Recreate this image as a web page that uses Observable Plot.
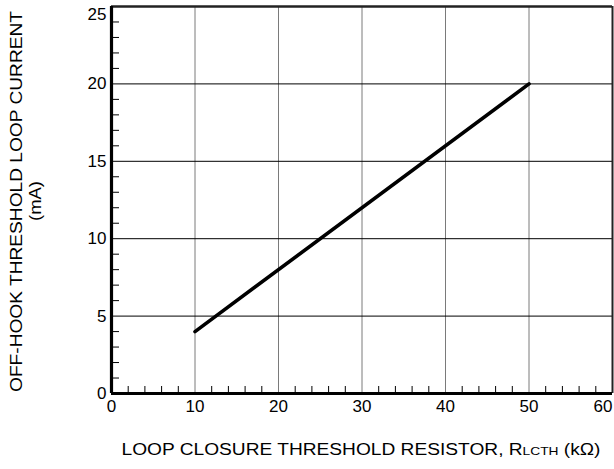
<!DOCTYPE html>
<html><head><meta charset="utf-8">
<script src="https://cdn.jsdelivr.net/npm/d3@7"></script>
<script src="https://cdn.jsdelivr.net/npm/@observablehq/plot@0.6"></script>
<style>body{margin:0;background:#fff} svg{display:block}</style>
</head><body><div id="chart"></div>
<script>
const resistorK = [10, 50];
const currentMA = [4, 20];
const xDomain = [0, 60];
const yDomain = [0, 25];
const xTickLabels = [0, 10, 20, 30, 40, 50];
const xLastLabel = [60];
const yTickLabels = [0, 5, 10, 15, 20];
const yTopLabel = [25];
const xGrid = [10, 20, 30, 40, 50];
const yGrid = [5, 10, 15, 20];
const xMinor = [2, 4, 6, 8, 12, 14, 16, 18, 22, 24, 26, 28, 32, 34, 36, 38, 42, 44, 46, 48, 52, 54, 56, 58];
const yMinor = [1, 2, 3, 4, 6, 7, 8, 9, 11, 12, 13, 14, 16, 17, 18, 19, 21, 22, 23, 24];
const xTitleMain = "LOOP CLOSURE THRESHOLD RESISTOR, R";
const xTitleSub = "LCTH";
const xTitleUnit = " (kΩ)";
const yTitleMain = "OFF-HOOK THRESHOLD LOOP CURRENT";
const yTitleUnit = "(mA)";

const data = resistorK.map((x, i) => ({x, y: currentMA[i]}));
const xTitle = xTitleMain + xTitleSub + xTitleUnit;

const chart = Plot.plot({
  width: 614, height: 469,
  marginLeft: 111, marginRight: 2, marginTop: 6, marginBottom: 76,
  style: {fontFamily: "'Liberation Sans', Arial, sans-serif", background: "#fff", color: "#000"},
  x: {domain: xDomain},
  y: {domain: yDomain},
  marks: [
    Plot.gridX(xGrid, {stroke: "#7a7a7a", strokeOpacity: 1, strokeWidth: 1}),
    Plot.gridY(yGrid, {stroke: "#000", strokeOpacity: 1, strokeWidth: 1}),
    Plot.axisX(xMinor, {tickSize: -7, text: null, label: null, stroke: "#000"}),
    Plot.axisY(yMinor, {tickSize: -8, text: null, label: null, stroke: "#000"}),
    Plot.axisX(xTickLabels, {tickSize: 0, tickPadding: 6, fontSize: 17, label: null, fill: "#000"}),
    Plot.axisX(xLastLabel, {tickSize: 0, tickPadding: 6, fontSize: 17, label: null, dx: -9.5, fill: "#000"}),
    Plot.axisY(yTickLabels, {tickSize: 0, tickPadding: 5, fontSize: 17, label: null, fill: "#000"}),
    Plot.axisY(yTopLabel, {tickSize: 0, tickPadding: 5, fontSize: 17, label: null, dy: 8, fill: "#000"}),
    Plot.ruleY([yDomain[1]], {stroke: "#222", strokeWidth: 2.5}),
    Plot.ruleX([xDomain[1]], {stroke: "#222", strokeWidth: 2}),
    Plot.ruleX([xDomain[0]], {stroke: "#000", strokeWidth: 3.2}),
    Plot.ruleY([yDomain[0]], {stroke: "#000", strokeWidth: 3.2}),
    Plot.line(data, {x: "x", y: "y", stroke: "#000", strokeWidth: 3.6}),
    Plot.text([xTitle], {text: d => d, frameAnchor: "bottom", textAnchor: "middle", dx: -1, dy: 61.5, fontSize: 16, fill: "#000"}),
    Plot.text([yTitleMain], {text: d => d, frameAnchor: "left", textAnchor: "middle", rotate: -90, dx: -95, dy: 1.5, fontSize: 16, fill: "#000"}),
    Plot.text([yTitleUnit], {text: d => d, frameAnchor: "left", textAnchor: "middle", rotate: -90, dx: -75.5, dy: 1, fontSize: 16, fill: "#000"})
  ]
});

d3.select(chart).selectAll("text").each(function() {
  const t = d3.select(this);
  if (this.textContent === xTitle) {
    t.text(null);
    t.append("tspan").text(xTitleMain);
    t.append("tspan").attr("font-size", 11.5).text(xTitleSub);
    t.append("tspan").text(xTitleUnit);
    t.attr("textLength", 479).attr("lengthAdjust", "spacingAndGlyphs");
  } else if (this.textContent === yTitleMain) {
    t.attr("textLength", 381).attr("lengthAdjust", "spacingAndGlyphs");
  } else if (this.textContent === yTitleUnit) {
    t.attr("textLength", 40).attr("lengthAdjust", "spacingAndGlyphs");
  }
});
document.getElementById("chart").appendChild(chart);
</script>
</body></html>
